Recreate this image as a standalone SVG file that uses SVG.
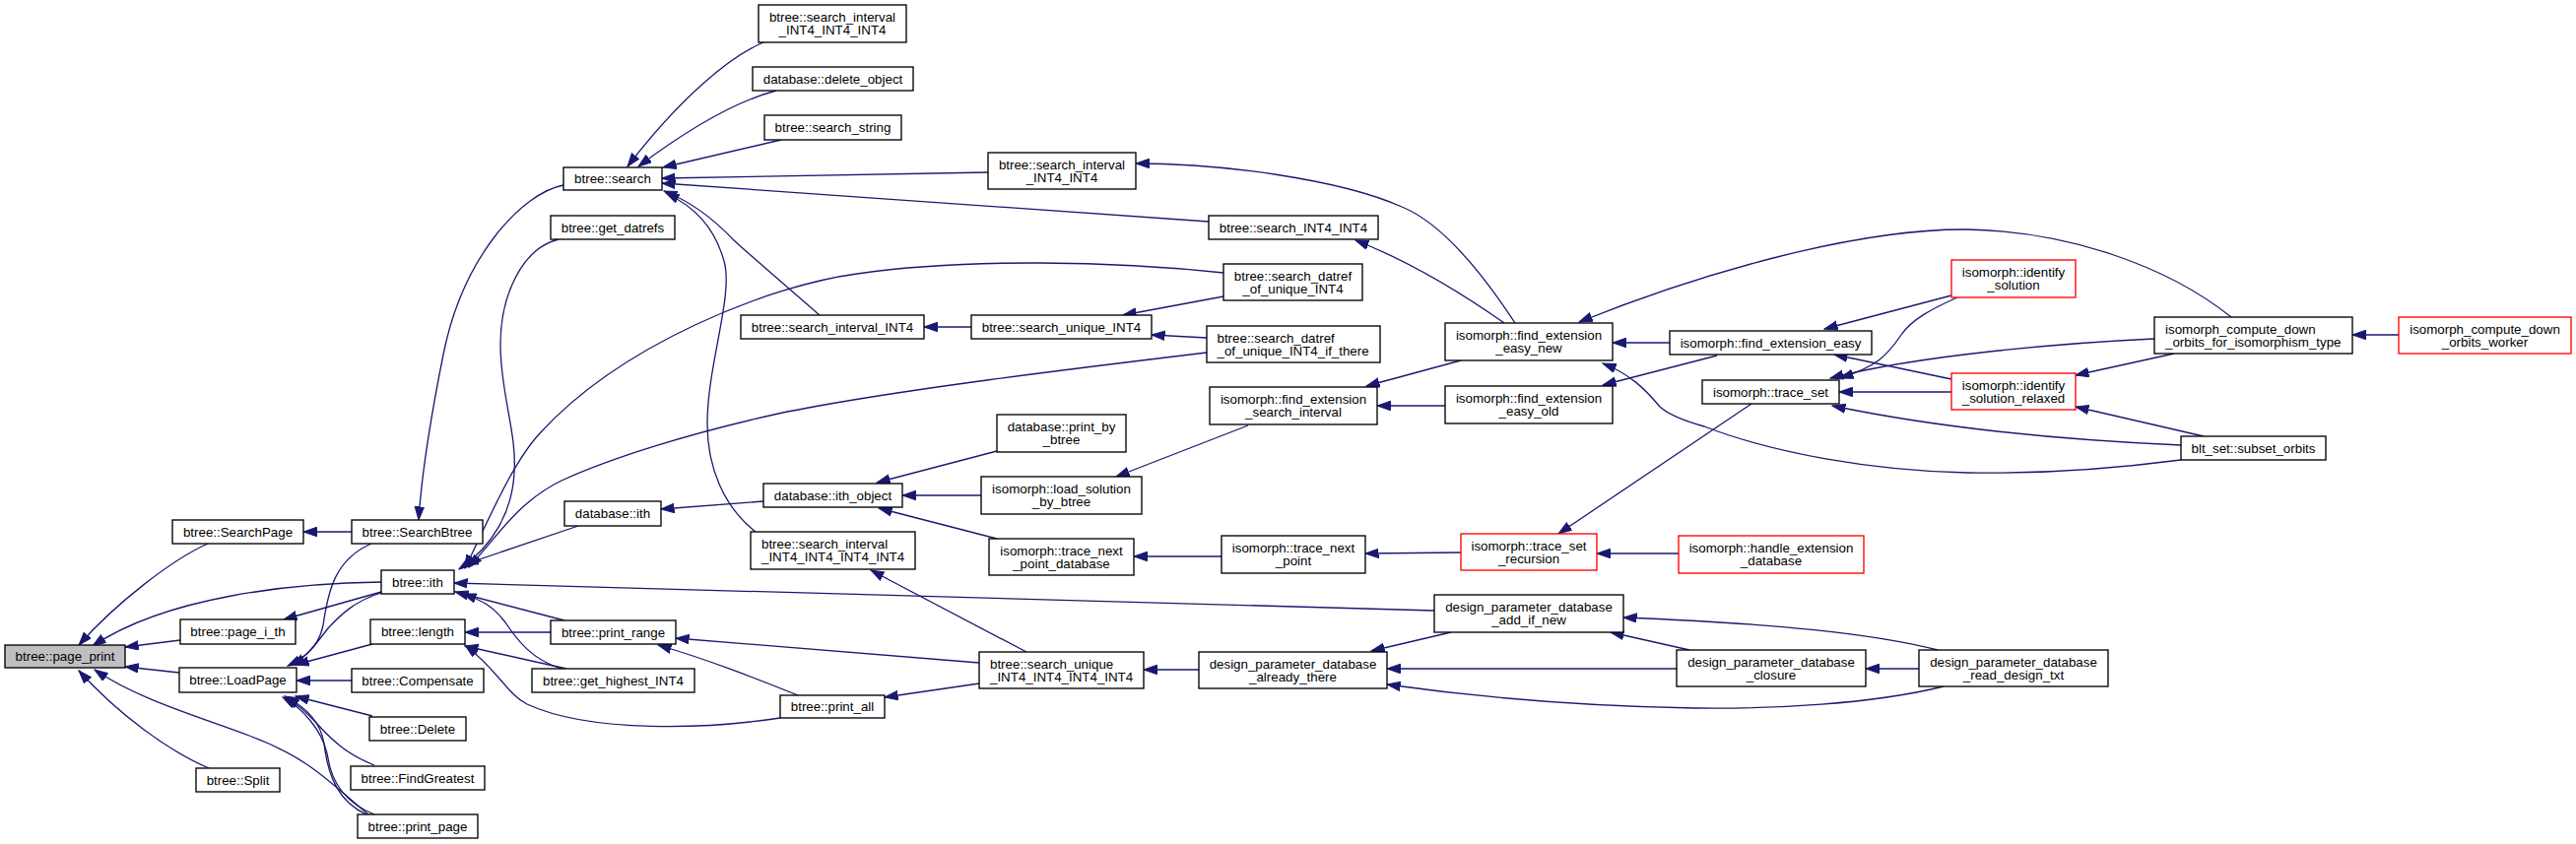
<svg xmlns="http://www.w3.org/2000/svg" width="2615" height="857" viewBox="0 0 2615 857">
<style>
.n rect{fill:#fff;stroke:#000;stroke-width:1.35}
.n.r rect{stroke:#ff0000}
.n.g rect{fill:#bfbfbf}
.n text{font-family:"Liberation Sans",Arial,sans-serif;font-size:13.33px;fill:#000;text-anchor:middle}
.n.l text{text-anchor:start}
#edges path{fill:none;stroke:#191970;stroke-width:1.3;marker-end:url(#a)}
</style>
<defs>
<marker id="a" markerUnits="userSpaceOnUse" markerWidth="15" markerHeight="11" refX="13.5" refY="5" orient="auto">
<path d="M0,0.3 L13.5,5 L0,9.7 z" fill="#191970" stroke="#191970" stroke-width="1"/>
</marker>
</defs>
<rect width="2615" height="857" fill="#fff"/>
<g id="edges">
<path d="M211,552 C175,568 118,612 80,655"/>
<path d="M387,591 C300,592 170,605 94,656"/>
<path d="M183,650 L127,657"/>
<path d="M182,683 L127,677"/>
<path d="M374,827 C335,795 315,770 253,747 C200,727 140,710 96,680"/>
<path d="M212,780 C170,762 120,725 80,681"/>
<path d="M357,540 L308,540"/>
<path d="M572,188 C530,196 470,260 450,360 C436,430 428,480 425,528"/>
<path d="M387,601 L288,629"/>
<path d="M377,552 C340,568 333,600 328,635 C323,660 305,670 292,676"/>
<path d="M387,602 C360,610 345,625 333,638 C320,655 310,668 296,675"/>
<path d="M378,654 L300,675"/>
<path d="M357,691 L301,691"/>
<path d="M378,727 L300,707"/>
<path d="M380,777 C355,767 340,755 322,735 C310,722 300,714 290,708"/>
<path d="M380,827 C350,815 337,795 333,770 C328,740 305,718 287,708"/>
<path d="M372,827 C345,815 333,790 329,755 C325,730 305,715 289,707"/>
<path d="M775,43 C740,58 690,100 637,169"/>
<path d="M788,92 C750,102 700,130 648,169"/>
<path d="M793,142 L673,170"/>
<path d="M1003,175 L672,181"/>
<path d="M1227,225 L672,186"/>
<path d="M832,320 C800,292 760,258 745,244 C728,226 705,206 674,194"/>
<path d="M767,540 C735,515 718,475 718,430 C718,370 745,300 735,265 C725,230 705,210 676,196"/>
<path d="M567,243 C530,252 508,300 508,350 C508,400 525,440 522,480 C520,520 500,555 466,578"/>
<path d="M1242,277 C1130,265 980,262 870,278 C780,290 630,350 548,440 C520,470 495,530 472,577"/>
<path d="M1225,358 C1100,373 900,397 790,420 C700,440 620,465 570,488 C525,510 505,545 476,576"/>
<path d="M587,534 L472,573"/>
<path d="M1456,620 L461,592"/>
<path d="M573,630 L462,601"/>
<path d="M570,679 C540,670 525,650 513,632 C500,615 490,610 470,603"/>
<path d="M559,642 L472,642"/>
<path d="M575,679 L472,656"/>
<path d="M792,729 C720,740 600,745 535,715 C515,705 505,680 472,655"/>
<path d="M810,706 C770,690 720,670 668,655"/>
<path d="M994,673 L686,648"/>
<path d="M994,694 L898,708"/>
<path d="M1042,662 L884,579"/>
<path d="M775,509 L671,517"/>
<path d="M1012,458 L890,490"/>
<path d="M996,503 L916,503"/>
<path d="M1012,547 L892,516"/>
<path d="M986,332 L938,332"/>
<path d="M1242,301 L1140,320"/>
<path d="M1225,343 L1169,340"/>
<path d="M1527,328 C1480,295 1430,265 1376,244"/>
<path d="M1538,328 C1500,270 1460,225 1423,210 C1360,182 1240,166 1153,166"/>
<path d="M1483,366 L1387,392"/>
<path d="M1467,412 L1398,412"/>
<path d="M1267,432 L1133,484"/>
<path d="M1240,565 L1151,565"/>
<path d="M1483,561 L1386,562"/>
<path d="M1704,562 L1621,562"/>
<path d="M1778,410 L1582,542"/>
<path d="M1695,348 L1637,348"/>
<path d="M2265,322 C2200,270 2100,235 1997,233 C1880,232 1720,280 1603,327"/>
<path d="M2214,467 C2130,478 2050,481 1997,480 C1900,478 1800,460 1730,433 C1712,428 1695,422 1685,413 C1670,395 1655,380 1627,369"/>
<path d="M1743,361 L1627,391"/>
<path d="M1981,300 L1852,334"/>
<path d="M1981,385 L1862,360"/>
<path d="M1987,302 C1960,314 1940,325 1930,340 C1915,362 1905,372 1868,384"/>
<path d="M2187,344 C2100,348 1950,360 1858,384"/>
<path d="M1981,398 L1867,398"/>
<path d="M2207,359 L2107,381"/>
<path d="M2237,443 L2107,413"/>
<path d="M2214,452 C2100,447 1980,437 1860,412"/>
<path d="M2435,340 L2388,340"/>
<path d="M1473,642 L1392,661"/>
<path d="M1702,679 L1408,679"/>
<path d="M1973,697 C1900,715 1800,720 1720,719 C1600,717 1500,708 1408,695"/>
<path d="M1217,680 L1161,680"/>
<path d="M1967,660 C1900,643 1800,633 1648,627"/>
<path d="M1715,660 L1635,642"/>
<path d="M1948,679 L1894,679"/>
</g>
<g id="page_print" class="n g"><rect x="5" y="655" width="122" height="23"/><text x="66" y="671">btree::page_print</text></g>
<g id="SearchPage" class="n"><rect x="175" y="528" width="133" height="24"/><text x="241.5" y="545">btree::SearchPage</text></g>
<g id="page_i_th" class="n"><rect x="183" y="629" width="117" height="25"/><text x="241.5" y="646">btree::page_i_th</text></g>
<g id="LoadPage" class="n"><rect x="182" y="678" width="119" height="25"/><text x="241.5" y="695">btree::LoadPage</text></g>
<g id="Split" class="n"><rect x="199" y="780" width="85" height="24"/><text x="241.5" y="797">btree::Split</text></g>
<g id="SearchBtree" class="n"><rect x="357" y="528" width="133" height="24"/><text x="423.5" y="545">btree::SearchBtree</text></g>
<g id="ith" class="n"><rect x="387" y="579" width="74" height="24"/><text x="424" y="596">btree::ith</text></g>
<g id="length" class="n"><rect x="376" y="629" width="96" height="25"/><text x="424" y="646">btree::length</text></g>
<g id="Compensate" class="n"><rect x="357" y="679" width="134" height="24"/><text x="424" y="696">btree::Compensate</text></g>
<g id="Delete" class="n"><rect x="375" y="728" width="98" height="24"/><text x="424" y="745">btree::Delete</text></g>
<g id="FindGreatest" class="n"><rect x="356" y="778" width="136" height="24"/><text x="424" y="795">btree::FindGreatest</text></g>
<g id="print_page" class="n"><rect x="363" y="827" width="122" height="24"/><text x="424" y="844">btree::print_page</text></g>
<g id="search" class="n"><rect x="572" y="170" width="100" height="23"/><text x="622" y="186">btree::search</text></g>
<g id="get_datrefs" class="n"><rect x="559" y="219" width="126" height="24"/><text x="622" y="236">btree::get_datrefs</text></g>
<g id="database_ith" class="n"><rect x="573" y="509" width="98" height="25"/><text x="622" y="526">database::ith</text></g>
<g id="print_range" class="n"><rect x="559" y="630" width="127" height="24"/><text x="622.5" y="647">btree::print_range</text></g>
<g id="get_highest_INT4" class="n"><rect x="540" y="679" width="165" height="24"/><text x="622.5" y="696">btree::get_highest_INT4</text></g>
<g id="search_interval_INT4_INT4_INT4" class="n"><rect x="770" y="5" width="150" height="38"/><text x="845" y="21.5">btree::search_interval</text><text x="845" y="35">_INT4_INT4_INT4</text></g>
<g id="delete_object" class="n"><rect x="764" y="68" width="163" height="24"/><text x="845.5" y="85">database::delete_object</text></g>
<g id="search_string" class="n"><rect x="776" y="117" width="139" height="25"/><text x="845.5" y="134">btree::search_string</text></g>
<g id="search_interval_INT4" class="n"><rect x="752" y="320" width="186" height="24"/><text x="845" y="337">btree::search_interval_INT4</text></g>
<g id="search_interval_INT4_INT4_INT4_INT4" class="n l"><rect x="762" y="540" width="167" height="38"/><text x="773" y="556.5">btree::search_interval</text><text x="773" y="570">_INT4_INT4_INT4_INT4</text></g>
<g id="search_interval_INT4_INT4" class="n"><rect x="1003" y="155" width="150" height="37"/><text x="1078" y="171.5">btree::search_interval</text><text x="1078" y="185">_INT4_INT4</text></g>
<g id="search_INT4_INT4" class="n"><rect x="1227" y="219" width="172" height="24"/><text x="1313" y="236">btree::search_INT4_INT4</text></g>
<g id="search_datref_of_unique_INT4" class="n"><rect x="1242" y="268" width="141" height="37"/><text x="1312.5" y="284.5">btree::search_datref</text><text x="1312.5" y="298">_of_unique_INT4</text></g>
<g id="search_unique_INT4" class="n"><rect x="986" y="320" width="183" height="24"/><text x="1077.5" y="337">btree::search_unique_INT4</text></g>
<g id="search_datref_of_unique_INT4_if_there" class="n l"><rect x="1225" y="331" width="176" height="37"/><text x="1235.5" y="347.5">btree::search_datref</text><text x="1235.5" y="361">_of_unique_INT4_if_there</text></g>
<g id="find_extension_search_interval" class="n"><rect x="1228" y="393" width="170" height="38"/><text x="1313" y="409.5">isomorph::find_extension</text><text x="1313" y="423">_search_interval</text></g>
<g id="print_by_btree" class="n"><rect x="1012" y="421" width="131" height="38"/><text x="1077.5" y="437.5">database::print_by</text><text x="1077.5" y="451">_btree</text></g>
<g id="ith_object" class="n"><rect x="775" y="491" width="141" height="24"/><text x="845.5" y="508">database::ith_object</text></g>
<g id="load_solution_by_btree" class="n"><rect x="996" y="484" width="163" height="38"/><text x="1077.5" y="500.5">isomorph::load_solution</text><text x="1077.5" y="514">_by_btree</text></g>
<g id="trace_next_point_database" class="n"><rect x="1004" y="547" width="147" height="37"/><text x="1077.5" y="563.5">isomorph::trace_next</text><text x="1077.5" y="577">_point_database</text></g>
<g id="search_unique_INT4_INT4_INT4_INT4" class="n l"><rect x="994" y="662" width="167" height="37"/><text x="1005" y="678.5">btree::search_unique</text><text x="1005" y="692">_INT4_INT4_INT4_INT4</text></g>
<g id="print_all" class="n"><rect x="792" y="706" width="106" height="23"/><text x="845" y="722">btree::print_all</text></g>
<g id="trace_next_point" class="n"><rect x="1240" y="544" width="146" height="38"/><text x="1313" y="560.5">isomorph::trace_next</text><text x="1313" y="574">_point</text></g>
<g id="already_there" class="n"><rect x="1217" y="662" width="191" height="37"/><text x="1312.5" y="678.5">design_parameter_database</text><text x="1312.5" y="692">_already_there</text></g>
<g id="find_extension_easy_new" class="n"><rect x="1467" y="328" width="170" height="38"/><text x="1552" y="344.5">isomorph::find_extension</text><text x="1552" y="358">_easy_new</text></g>
<g id="find_extension_easy_old" class="n"><rect x="1467" y="392" width="170" height="38"/><text x="1552" y="408.5">isomorph::find_extension</text><text x="1552" y="422">_easy_old</text></g>
<g id="trace_set_recursion" class="n r"><rect x="1483" y="542" width="138" height="37"/><text x="1552" y="558.5">isomorph::trace_set</text><text x="1552" y="572">_recursion</text></g>
<g id="add_if_new" class="n"><rect x="1456" y="604" width="192" height="38"/><text x="1552" y="620.5">design_parameter_database</text><text x="1552" y="634">_add_if_new</text></g>
<g id="find_extension_easy" class="n"><rect x="1695" y="336" width="205" height="24"/><text x="1797.5" y="353">isomorph::find_extension_easy</text></g>
<g id="trace_set" class="n"><rect x="1728" y="386" width="139" height="24"/><text x="1797.5" y="403">isomorph::trace_set</text></g>
<g id="handle_extension_database" class="n r"><rect x="1704" y="544" width="188" height="38"/><text x="1798" y="560.5">isomorph::handle_extension</text><text x="1798" y="574">_database</text></g>
<g id="closure" class="n"><rect x="1702" y="660" width="192" height="37"/><text x="1798" y="676.5">design_parameter_database</text><text x="1798" y="690">_closure</text></g>
<g id="identify_solution" class="n r"><rect x="1981" y="264" width="126" height="38"/><text x="2044" y="280.5">isomorph::identify</text><text x="2044" y="294">_solution</text></g>
<g id="identify_solution_relaxed" class="n r"><rect x="1981" y="379" width="126" height="37"/><text x="2044" y="395.5">isomorph::identify</text><text x="2044" y="409">_solution_relaxed</text></g>
<g id="read_design_txt" class="n"><rect x="1948" y="660" width="192" height="37"/><text x="2044" y="676.5">design_parameter_database</text><text x="2044" y="690">_read_design_txt</text></g>
<g id="compute_down_orbits_for_isomorphism_type" class="n l"><rect x="2187" y="322" width="201" height="37"/><text x="2198" y="338.5">isomorph_compute_down</text><text x="2198" y="352">_orbits_for_isomorphism_type</text></g>
<g id="compute_down_orbits_worker" class="n r"><rect x="2435" y="322" width="175" height="37"/><text x="2522.5" y="338.5">isomorph_compute_down</text><text x="2522.5" y="352">_orbits_worker</text></g>
<g id="subset_orbits" class="n"><rect x="2214" y="443" width="147" height="24"/><text x="2287.5" y="460">blt_set::subset_orbits</text></g>
</svg>
